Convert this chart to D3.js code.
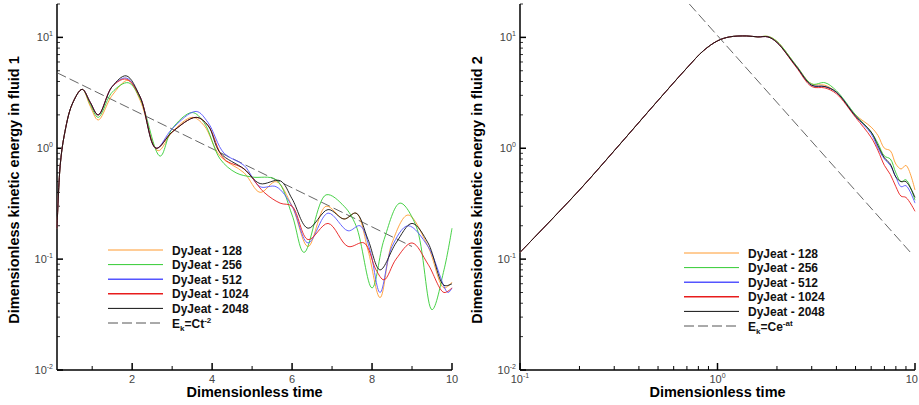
<!DOCTYPE html>
<html><head><meta charset="utf-8">
<script src="https://cdn.jsdelivr.net/npm/d3@7"></script>
<style>body{margin:0;background:#fff}</style></head>
<body><svg id="c" width="919" height="405"></svg>
<script>
const seriesNames = ["DyJeat - 128","DyJeat - 256","DyJeat - 512","DyJeat - 1024","DyJeat - 2048"];
const seriesColors = ["#ff9a2e","#33cc33","#5555ff","#e81c1c","#111111"];
// Fluid 1 data [t, E]
const f1_128 = [[0.12,0.19],[0.2,0.7],[0.3,1.3],[0.5,2.5],[0.75,3.4],[0.95,2.4],[1.15,1.8],[1.5,3.0],[1.9,4.1],[2.2,2.7],[2.65,0.95],[3.0,1.4],[3.5,1.9],[3.8,1.6],[4.2,0.85],[4.8,0.6],[5.2,0.4],[5.6,0.5],[6.0,0.3],[6.4,0.13],[6.85,0.3],[7.3,0.23],[7.6,0.26],[7.9,0.12],[8.2,0.045],[8.5,0.14],[8.9,0.25],[9.4,0.13],[9.8,0.055],[10,0.062]];
const f1_256 = [[0.12,0.19],[0.2,0.7],[0.3,1.3],[0.5,2.5],[0.75,3.4],[0.95,2.5],[1.15,1.9],[1.5,3.2],[1.9,3.9],[2.2,2.8],[2.7,0.85],[3.0,1.5],[3.5,2.1],[3.8,1.7],[4.2,0.8],[4.6,0.6],[5.0,0.55],[5.6,0.52],[6.0,0.25],[6.3,0.115],[6.85,0.38],[7.3,0.3],[7.6,0.2],[8.0,0.055],[8.3,0.15],[8.7,0.32],[9.1,0.2],[9.5,0.035],[9.8,0.08],[10,0.19]];
const f1_512 = [[0.12,0.19],[0.2,0.7],[0.3,1.3],[0.5,2.5],[0.75,3.4],[0.95,2.6],[1.15,2.0],[1.5,3.6],[1.85,4.3],[2.2,2.9],[2.6,1.0],[3.0,1.5],[3.6,2.15],[3.9,1.7],[4.3,0.9],[4.8,0.7],[5.2,0.45],[5.6,0.45],[6.0,0.3],[6.4,0.14],[6.9,0.26],[7.4,0.18],[7.7,0.2],[7.95,0.12],[8.2,0.05],[8.5,0.13],[8.9,0.2],[9.4,0.13],[9.9,0.05],[10,0.055]];
const f1_1024 = [[0.12,0.19],[0.2,0.7],[0.3,1.3],[0.5,2.5],[0.75,3.4],[0.95,2.6],[1.15,2.0],[1.5,3.6],[1.85,4.2],[2.2,2.9],[2.6,1.0],[3.0,1.4],[3.6,1.9],[3.9,1.6],[4.3,0.8],[4.8,0.65],[5.3,0.4],[5.7,0.32],[6.0,0.3],[6.4,0.15],[6.9,0.21],[7.4,0.13],[7.8,0.14],[8.1,0.08],[8.3,0.065],[8.6,0.1],[9.0,0.14],[9.4,0.09],[9.8,0.05],[10,0.055]];
const f1_2048 = [[0.12,0.19],[0.2,0.7],[0.3,1.3],[0.5,2.5],[0.75,3.4],[0.95,2.6],[1.15,2.0],[1.5,3.6],[1.85,4.5],[2.2,2.9],[2.6,1.0],[3.0,1.4],[3.6,1.9],[3.9,1.6],[4.2,0.91],[4.8,0.65],[5.2,0.48],[5.7,0.51],[6.0,0.35],[6.4,0.19],[6.9,0.28],[7.3,0.23],[7.6,0.26],[7.9,0.15],[8.2,0.08],[8.6,0.14],[9.0,0.21],[9.4,0.14],[9.8,0.058],[10,0.06]];
const f1_fit = [[0.12,4.8],[9.0,0.13]];
// Fluid 2 data [t, E]
const f2_128 = [[0.1,0.115],[0.2,0.42],[0.3,0.95],[0.5,2.7],[0.7,5.3],[0.85,7.6],[1.0,9.3],[1.15,10.1],[1.4,10.3],[1.6,10.1],[1.8,10.2],[2.0,9.2],[2.5,5.6],[3.0,3.8],[3.5,3.7],[4.0,3.2],[5.0,2.0],[6.0,1.55],[6.5,1.3],[7.0,1.0],[7.5,0.95],[8.0,0.72],[8.5,0.65],[9.0,0.7],[10,0.42]];
const f2_256 = [[0.1,0.115],[0.2,0.42],[0.3,0.95],[0.5,2.7],[0.7,5.3],[0.85,7.6],[1.0,9.3],[1.15,10.1],[1.4,10.3],[1.6,10.1],[1.8,10.2],[2.0,9.2],[2.5,5.6],[3.0,3.8],[3.5,3.9],[4.0,3.3],[5.0,2.0],[6.0,1.4],[6.5,1.1],[7.0,0.85],[7.5,0.8],[8.0,0.6],[8.5,0.5],[9.0,0.52],[10,0.34]];
const f2_512 = [[0.1,0.115],[0.2,0.42],[0.3,0.95],[0.5,2.7],[0.7,5.3],[0.85,7.6],[1.0,9.3],[1.15,10.1],[1.4,10.3],[1.6,10.1],[1.8,10.1],[2.0,9.0],[2.5,5.5],[3.0,3.7],[3.5,3.6],[4.0,3.2],[5.0,1.95],[6.0,1.35],[6.5,1.0],[7.0,0.8],[7.5,0.7],[8.0,0.55],[8.5,0.45],[9.0,0.46],[10,0.32]];
const f2_1024 = [[0.1,0.115],[0.2,0.42],[0.3,0.95],[0.5,2.7],[0.7,5.3],[0.85,7.6],[1.0,9.3],[1.15,10.1],[1.4,10.3],[1.6,10.1],[1.8,10.1],[2.0,9.0],[2.5,5.4],[3.0,3.6],[3.5,3.5],[4.0,3.1],[5.0,1.9],[6.0,1.25],[6.5,0.95],[7.0,0.7],[7.5,0.58],[8.0,0.45],[8.5,0.37],[9.0,0.36],[10,0.27]];
const f2_2048 = [[0.1,0.115],[0.2,0.42],[0.3,0.95],[0.5,2.7],[0.7,5.3],[0.85,7.6],[1.0,9.3],[1.15,10.1],[1.4,10.3],[1.6,10.1],[1.8,10.1],[2.0,9.0],[2.5,5.5],[3.0,3.7],[3.5,3.6],[4.0,3.2],[5.0,1.95],[6.0,1.4],[6.5,1.05],[7.0,0.82],[7.5,0.72],[8.0,0.55],[8.5,0.5],[9.0,0.5],[10,0.36]];
const f2_fit = [[0.72,20],[9.7,0.11]];
const yTicks = [-2,-1,0,1];
const x1Ticks = [2,4,6,8,10];
const x1Minor = [1,3,5,7,9];

const svg = d3.select("#c");
const font = "Liberation Sans, Arial, sans-serif";

function panel(o){
  const g = svg.append("g");
  const y = d3.scaleLog().domain([0.01, 20]).range([370, 4]);
  const x = o.x;
  const [x0,x1] = x.range();
  yTicks.forEach(e=>{
    const v=Math.pow(10,e), yy=y(v);
    g.append("line").attr("x1",x0).attr("x2",x0+6).attr("y1",yy).attr("y2",yy).attr("stroke","#000").attr("stroke-width",1.5);
    const t=g.append("text").attr("x",x0-4).attr("y",yy+4).attr("text-anchor","end").attr("font-family",font).attr("font-size",11).attr("fill","#444");
    t.append("tspan").text("10");
    t.append("tspan").attr("dy",-5).attr("font-size",7).text(e);
    for(let m=2;m<10;m++){const mv=v*m; if(mv<=20){const my=y(mv);
      g.append("line").attr("x1",x0).attr("x2",x0+3).attr("y1",my).attr("y2",my).attr("stroke","#000").attr("stroke-width",0.8);}}
  });
  o.xticks(g,x);
  g.append("line").attr("x1",x0).attr("x2",x0).attr("y1",4).attr("y2",370).attr("stroke","#000").attr("stroke-width",1.5);
  g.append("line").attr("x1",x0).attr("x2",x1).attr("y1",370).attr("y2",370).attr("stroke","#000").attr("stroke-width",1.5);
  const line = d3.line().x(d=>x(d[0])).y(d=>y(d[1])).curve(d3.curveCatmullRom.alpha(0.5));
  g.append("path").datum(o.fit).attr("d",d3.line().x(d=>x(d[0])).y(d=>y(d[1]))).attr("fill","none").attr("stroke","#555").attr("stroke-width",0.9).attr("stroke-dasharray","10,4");
  o.data.forEach((d,i)=>g.append("path").datum(d).attr("d",line).attr("fill","none").attr("stroke",seriesColors[i]).attr("stroke-width",0.9));
  o.data.forEach((d,i)=>{const ly=o.leg[1]+i*14.6;
    g.append("line").attr("x1",o.leg[0]).attr("x2",o.leg[0]+55).attr("y1",ly).attr("y2",ly).attr("stroke",seriesColors[i]).attr("stroke-width",i==2||i==3?1.5:1);
    g.append("text").attr("x",o.leg[0]+64).attr("y",ly+4.5).attr("font-family",font).attr("font-weight","bold").attr("font-size",12).attr("fill","#111").text(seriesNames[i]);
  });
  const ly=o.leg[1]+5*14.6;
  g.append("line").attr("x1",o.leg[0]).attr("x2",o.leg[0]+55).attr("y1",ly).attr("y2",ly).attr("stroke","#555").attr("stroke-dasharray","10,4");
  const ft=g.append("text").attr("x",o.leg[0]+64).attr("y",ly+4.5).attr("font-family",font).attr("font-weight","bold").attr("font-size",12).attr("fill","#111");
  ft.append("tspan").text("E");ft.append("tspan").attr("dy",3).attr("font-size",8).text("k");
  ft.append("tspan").attr("dy",-3).text(o.fitLbl[0]);ft.append("tspan").attr("dy",-5).attr("font-size",8).text(o.fitLbl[1]);
  g.append("text").attr("x",(x0+x1)/2).attr("y",397).attr("text-anchor","middle").attr("font-family",font).attr("font-weight","bold").attr("font-size",14.5).text("Dimensionless time");
  g.append("text").attr("transform",`translate(${x0-38},190) rotate(-90)`).attr("text-anchor","middle").attr("font-family",font).attr("font-weight","bold").attr("font-size",14.5).text(o.ytitle);
}

const xa = d3.scaleLinear().domain([0.12,10]).range([57,452]);
panel({x:xa,data:[f1_128,f1_256,f1_512,f1_1024,f1_2048],fit:f1_fit,leg:[108,250],fitLbl:["=Ct","-2"],ytitle:"Dimensionless kinetic energy in fluid 1",
  xticks:(g,x)=>{
    x1Ticks.forEach(v=>{g.append("line").attr("x1",x(v)).attr("x2",x(v)).attr("y1",370).attr("y2",363).attr("stroke","#000").attr("stroke-width",1.5);
      g.append("text").attr("x",x(v)).attr("y",383).attr("text-anchor","middle").attr("font-family",font).attr("font-size",11).attr("fill","#444").text(v);});
    x1Minor.forEach(v=>g.append("line").attr("x1",x(v)).attr("x2",x(v)).attr("y1",370).attr("y2",366).attr("stroke","#000"));
  }});
const xb = d3.scaleLog().domain([0.1,10]).range([520,915]);
panel({x:xb,data:[f2_128,f2_256,f2_512,f2_1024,f2_2048],fit:f2_fit,leg:[684,253],fitLbl:["=Ce","-at"],ytitle:"Dimensionless kinetic energy in fluid 2",
  xticks:(g,x)=>{
    [-1,0,1].forEach(e=>{const v=Math.pow(10,e);
      g.append("line").attr("x1",x(v)).attr("x2",x(v)).attr("y1",370).attr("y2",363).attr("stroke","#000").attr("stroke-width",1.5);
      const t=g.append("text").attr("x",e==1?x(v)+3:x(v)).attr("y",383).attr("text-anchor",e==1?"end":"middle").attr("font-family",font).attr("font-size",11).attr("fill","#444");
      if(e==1){t.text("10");}else{t.append("tspan").text("10");t.append("tspan").attr("dy",-5).attr("font-size",7).text(e);}
      if(e<1)for(let m=2;m<10;m++){g.append("line").attr("x1",x(v*m)).attr("x2",x(v*m)).attr("y1",370).attr("y2",366).attr("stroke","#000");}
    });
  }});
</script></body></html>
